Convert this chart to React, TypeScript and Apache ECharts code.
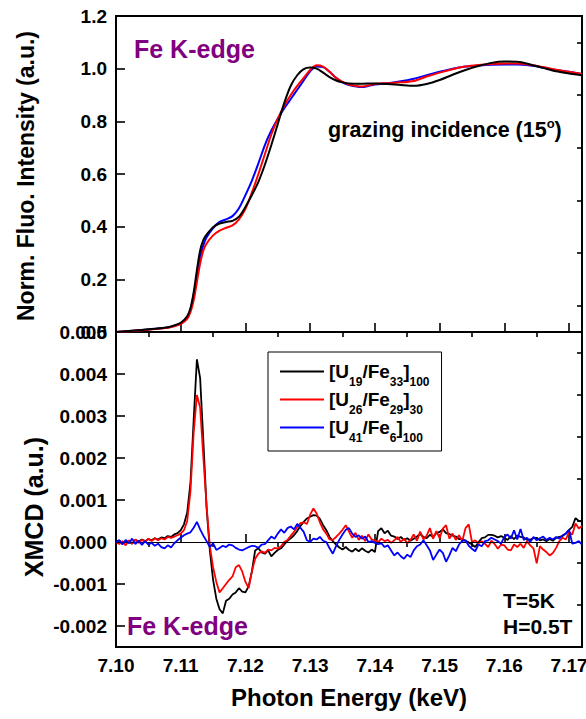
import { useEffect, useRef } from "react";
import * as echarts from "echarts";

// ---------- XAS (top panel) ----------
const XAS_E = [
  7.100, 7.102, 7.104, 7.106, 7.108, 7.109, 7.110, 7.111, 7.1115, 7.112,
  7.1125, 7.113, 7.1135, 7.114, 7.115, 7.116, 7.117, 7.118, 7.119, 7.120,
  7.121, 7.122, 7.123, 7.124, 7.125, 7.126, 7.127, 7.128, 7.129, 7.130,
  7.131, 7.132, 7.133, 7.134, 7.135, 7.136, 7.138, 7.140, 7.142, 7.144,
  7.146, 7.148, 7.150, 7.152, 7.154, 7.156, 7.158, 7.160, 7.162, 7.164,
  7.166, 7.168, 7.170, 7.172,
];
const XAS_BLACK = [
  0.000, 0.004, 0.008, 0.012, 0.018, 0.025, 0.035, 0.060, 0.090, 0.150,
  0.235, 0.310, 0.350, 0.370, 0.398, 0.412, 0.418, 0.422, 0.438, 0.475,
  0.520, 0.570, 0.635, 0.710, 0.790, 0.870, 0.935, 0.975, 0.998, 1.004,
  1.000, 0.985, 0.968, 0.955, 0.948, 0.944, 0.943, 0.944, 0.942, 0.938,
  0.935, 0.942, 0.957, 0.977, 0.995, 1.010, 1.022, 1.027, 1.026, 1.016,
  1.003, 0.990, 0.982, 0.975,
];
const XAS_RED = [
  0.000, 0.003, 0.007, 0.011, 0.016, 0.022, 0.030, 0.050, 0.075, 0.120,
  0.190, 0.260, 0.310, 0.336, 0.367, 0.385, 0.396, 0.405, 0.428, 0.468,
  0.530, 0.600, 0.675, 0.750, 0.810, 0.860, 0.900, 0.935, 0.965, 0.995,
  1.013, 1.008, 0.988, 0.965, 0.950, 0.940, 0.932, 0.942, 0.945, 0.948,
  0.953, 0.970, 0.985, 0.998, 1.008, 1.014, 1.018, 1.020, 1.020, 1.015,
  1.006, 0.996, 0.988, 0.980,
];
const XAS_BLUE = [
  0.000, 0.004, 0.008, 0.012, 0.017, 0.024, 0.033, 0.055, 0.085, 0.140,
  0.215, 0.285, 0.330, 0.360, 0.395, 0.418, 0.428, 0.440, 0.470, 0.520,
  0.575, 0.640, 0.710, 0.765, 0.810, 0.850, 0.885, 0.920, 0.955, 0.990,
  1.008, 1.006, 0.988, 0.965, 0.948, 0.938, 0.930, 0.940, 0.945, 0.952,
  0.962, 0.975, 0.988, 1.000, 1.008, 1.012, 1.015, 1.016, 1.016, 1.012,
  1.004, 0.995, 0.988, 0.980,
];

// ---------- XMCD (bottom panel), values in units of 1e-4 ----------
const XMCD_UNIT = 1e-4;
const XMCD_E = [
  7.1000, 7.1005, 7.1010, 7.1015, 7.1020, 7.1025, 7.1030, 7.1035, 7.1040, 7.1045,
  7.1050, 7.1055, 7.1060, 7.1065, 7.1070, 7.1075, 7.1080, 7.1085, 7.1090, 7.1095,
  7.1100, 7.1105, 7.1110, 7.1115, 7.1120, 7.1125, 7.1130, 7.1135, 7.1140, 7.1145,
  7.1150, 7.1155, 7.1160, 7.1165, 7.1170, 7.1175, 7.1180, 7.1185, 7.1190, 7.1195,
  7.1200, 7.1205, 7.1210, 7.1215, 7.1220, 7.1225, 7.1230, 7.1235, 7.1240, 7.1245,
  7.1250, 7.1255, 7.1260, 7.1265, 7.1270, 7.1275, 7.1280, 7.1285, 7.1290, 7.1295,
  7.1300, 7.1305, 7.1310, 7.1315, 7.1320, 7.1325, 7.1330, 7.1335, 7.1340, 7.1345,
  7.1350, 7.1355, 7.1360, 7.1365, 7.1370, 7.1375, 7.1380, 7.1385, 7.1390, 7.1395,
  7.1400, 7.1405, 7.1410, 7.1415, 7.1420, 7.1425, 7.1430, 7.1435, 7.1440, 7.1445,
  7.1450, 7.1455, 7.1460, 7.1465, 7.1470, 7.1475, 7.1480, 7.1485, 7.1490, 7.1495,
  7.1500, 7.1505, 7.1510, 7.1515, 7.1520, 7.1525, 7.1530, 7.1535, 7.1540, 7.1545,
  7.1550, 7.1555, 7.1560, 7.1565, 7.1570, 7.1575, 7.1580, 7.1585, 7.1590, 7.1595,
  7.1600, 7.1605, 7.1610, 7.1615, 7.1620, 7.1625, 7.1630, 7.1635, 7.1640, 7.1645,
  7.1650, 7.1655, 7.1660, 7.1665, 7.1670, 7.1675, 7.1680, 7.1685, 7.1690, 7.1695,
  7.1700, 7.1705, 7.1710, 7.1715, 7.1720,
];
const XMCD_BLACK = [
  0, 0.4, -0.3, 0.3, 0.0, -0.4, 0.5, 0.1, 0.6, 0.2,
  0.7, 0.4, 0.9, 0.6, 1.1, 0.9, 1.4, 1.2, 1.8, 2.1,
  2.8, 4.2, 7.0, 14.0, 29.0, 43.5, 39.0, 24.0, 8.0, -2.0,
  -9.0, -13.5, -16.0, -17.0, -14.0, -13.5, -12.5, -12.0, -11.0, -11.8,
  -12.0, -10.5, -7.0, -2.0, -1.5, -2.5, -2.8, -2.0, -3.4, -2.6,
  -1.9, -1.5, -0.6, 0.3, 0.9, 1.6, 2.6, 3.8, 4.8, 5.6,
  6.0, 6.4, 6.3, 5.5, 4.0, 2.8, 1.2, 0.2, -0.6, -1.3,
  -1.8, -1.2, -1.9, -2.3, -1.6, -2.2, -1.5, -2.1, -2.5, -1.8,
  -2.4, 2.6, 3.3, 2.1, 2.7, 1.5, 1.3, 0.7, 1.2, 0.5,
  0.9, 0.3, 0.8, 1.3, 1.9, 1.2, 0.9, 1.7, 1.2, 2.1,
  2.4, 3.0, 2.1, 1.9, 1.5, 1.3, 0.7, 0.7, 0.3, -0.1,
  -0.6, -1.2, -0.1, 0.9, 1.1, 1.7, 1.7, 1.5, 1.1, 1.4,
  1.0, 0.5, 1.4, 0.7, 1.5, 1.2, 1.1, 0.5, 0.6, 0.9,
  1.0, 0.4, 0.6, 0.2, 0.7, 0.3, 1.0, 1.2, 1.4, 2.0,
  2.9, 3.6, 5.7, 5.0, 4.9,
];
const XMCD_RED = [
  0, -0.5, 0.2, -0.8, 0.4, -0.4, 0.6, -0.2, 0.5, 0.1,
  0.8, 0.2, 0.9, 0.4, 0.9, 0.6, 1.2, 1.0, 1.3, 1.6,
  2.0, 2.8, 5.0, 12.0, 26.0, 35.0, 32.0, 20.0, 8.5, -1.0,
  -6.0, -9.5, -12.0, -11.0, -10.0, -9.0, -8.2, -6.0, -5.5, -7.0,
  -9.5, -11.0, -7.0, -4.0, -2.8, -2.2, -2.6, -1.8, -2.0, -1.4,
  -1.6, -1.0, 0.0, 0.5, 1.5, 2.4, 3.5, 4.5, 4.7, 4.3,
  6.5, 8.0, 6.8, 4.7, 3.0, 2.0, 0.6, 0.5, 1.2, 2.0,
  2.9, 4.0, 2.5, 1.0, 2.2, 0.5, 1.5, 0.2, 1.8, 0.6,
  0.4, -0.1, 0.8, 0.2, 0.5, -0.2, 0.4, 1.2, 0.0, 0.8,
  -0.3, 0.5, 1.8, 0.3, 2.5, 0.6, 1.5, 3.3, 0.8, 2.6,
  0.9, 3.2, 4.0, 0.8, 2.0, 0.5, 1.6, 0.2, 3.3, 4.2,
  0.0, 0.4, -0.3, 0.2, -0.4, -1.2, 0.3, -0.5, -1.6, -0.6,
  -0.8, -1.8, -2.0, -0.6, -1.2, -0.4, -1.4, 0.2, -0.8, -1.5,
  -5.1, -1.0, -1.8, -2.4, -3.2, -2.6, -1.4, 0.2, 1.0, 0.6,
  2.4, 1.8, 4.4, 3.2, 3.8,
];
const XMCD_BLUE = [
  0, 0.4, -0.6, 0.5, -0.3, 0.8, -0.5, 0.3, -0.7, 0.2,
  -0.6, -0.2, -0.9, -0.4, -1.2, -1.5, -0.8, -1.3, -0.3, 0.4,
  1.0, 1.6, 2.0, 2.3, 3.4, 4.8, 3.0, 1.5, 0.2, -1.2,
  -0.3, -1.9, -1.4, -0.9, -1.2, -0.6, -0.8, -1.4, -1.8, -2.0,
  -1.6, -1.2, -0.9, -1.0, -1.4, -0.6, -0.5, 0.4, 1.3, 0.8,
  2.0, 3.0, 2.2, 3.3, 3.7, 3.0, 4.3, 3.4, 2.4, 0.4,
  0.0, 0.8, 0.6, 1.2, 0.3, 0.0, -1.5, -2.8, -1.0, 0.5,
  1.8, 2.9, 3.3, 2.0, 1.2, 1.6, 0.8, 1.3, 0.0, 0.2,
  -0.2, -0.5, -0.3, -1.2, -0.8, -2.0, -3.2, -2.5, -3.4, -4.0,
  -3.0, -3.6, -2.0, -1.0, -0.6, 0.4, -0.8, -2.0, -4.3, -3.0,
  -1.8, -2.6, -4.7, -3.2, -1.4, -2.2, -0.6, 0.3, 0.4, -0.9,
  -1.6, -2.2, -0.6, -1.0, 0.2, 0.4, 1.0, 0.6, 0.2, -0.4,
  1.2, 1.8, 0.8, 2.8, 0.6, 3.1, 0.5, 1.0, 0.0, 1.2,
  0.4, 0.9, 1.3, 0.5, 1.0, 0.6, 1.2, 0.8, 1.6, 2.0,
  2.9, -0.4, -0.2, 0.2, -0.6,
];

// ---------- names, ticks ----------
const NAMES = ["[U19/Fe33]100", "[U26/Fe29]30", "[U41/Fe6]100"];
const NAME_RICH: Record<string, string> = {
  "[U19/Fe33]100": "[U{s|19}/Fe{s|33}]{s|100}",
  "[U26/Fe29]30": "[U{s|26}/Fe{s|29}]{s|30}",
  "[U41/Fe6]100": "[U{s|41}/Fe{s|6}]{s|100}",
};
const COLORS = ["#000000", "#ff0000", "#0000ff"];

const X_MIN = 7.1;
const X_MAX = 7.172;
const X_MAJOR = [7.1, 7.11, 7.12, 7.13, 7.14, 7.15, 7.16, 7.17];
const X_MINOR = [7.105, 7.115, 7.125, 7.135, 7.145, 7.155, 7.165];
const XAS_Y_MAJOR = [0, 0.2, 0.4, 0.6, 0.8, 1.0, 1.2];
const XAS_Y_MINOR = [0.1, 0.3, 0.5, 0.7, 0.9, 1.1];
const XMCD_Y_MAJOR = [-0.002, -0.001, 0, 0.001, 0.002, 0.003, 0.004, 0.005];
const XMCD_Y_MINOR = [-0.0015, -0.0005, 0.0005, 0.0015, 0.0025, 0.0035, 0.0045];

const FONT = '"Liberation Sans", Arial, Helvetica, sans-serif';
const PURPLE = "#800080";

function tickAxis(
  gridIndex: number,
  min: number,
  max: number,
  ticks: number[],
  len: number,
  labels: number[] | null,
  fmt: (v: number) => string
) {
  return {
    type: "value",
    gridIndex,
    min,
    max,
    axisLine: { show: false },
    splitLine: { show: false },
    axisTick: {
      show: true,
      inside: true,
      length: len,
      customValues: ticks,
      lineStyle: { color: "#000", width: 1.6 },
    },
    axisLabel: labels
      ? {
          show: true,
          customValues: labels,
          formatter: fmt,
          color: "#000",
          fontFamily: FONT,
          fontWeight: "bold",
          fontSize: 19,
          margin: 9,
        }
      : { show: false },
  };
}

export default function App() {
  const ref = useRef<HTMLDivElement>(null);
  useEffect(() => {
    const chart = echarts.init(ref.current!, null, { renderer: "svg" });
    const f2 = (v: number) => v.toFixed(2);
    const f1 = (v: number) => v.toFixed(1);
    const f3 = (v: number) => v.toFixed(3);

    const xAxes = [
      tickAxis(0, X_MIN, X_MAX, X_MAJOR, 9, null, f2),
      tickAxis(0, X_MIN, X_MAX, X_MINOR, 5, null, f2),
      {
        ...tickAxis(1, X_MIN, X_MAX, X_MAJOR, 8, X_MAJOR, f2),
        name: "Photon Energy (keV)",
        nameLocation: "middle",
        nameGap: 38,
        nameTextStyle: { color: "#000", fontFamily: FONT, fontWeight: "bold", fontSize: 24 },
      },
      tickAxis(1, X_MIN, X_MAX, X_MINOR, 5, null, f2),
    ];
    const yAxes = [
      tickAxis(0, 0, 1.2, XAS_Y_MAJOR, 9, XAS_Y_MAJOR, f1),
      tickAxis(0, 0, 1.2, XAS_Y_MINOR, 5, null, f1),
      tickAxis(1, -0.0025, 0.005, XMCD_Y_MAJOR, 9, XMCD_Y_MAJOR, f3),
      tickAxis(1, -0.0025, 0.005, XMCD_Y_MINOR, 5, null, f3),
    ];

    const xasVals = [XAS_BLACK, XAS_RED, XAS_BLUE];
    const xmcdVals = [XMCD_BLACK, XMCD_RED, XMCD_BLUE];

    const xasSeries = [2, 1, 0].map((k) => ({
      name: NAMES[k],
      type: "line",
      xAxisIndex: 0,
      yAxisIndex: 0,
      showSymbol: false,
      symbol: "none",
      smooth: 0.3,
      lineStyle: { color: COLORS[k], width: 2 },
      itemStyle: { color: COLORS[k] },
      data: XAS_E.map((e, i) => [e, xasVals[k][i]]),
      z: 3 + (2 - k),
    }));
    const xmcdSeries = [0, 1, 2].map((k) => ({
      name: NAMES[k],
      type: "line",
      xAxisIndex: 2,
      yAxisIndex: 2,
      showSymbol: false,
      symbol: "none",
      lineStyle: { color: COLORS[k], width: 1.8 },
      itemStyle: { color: COLORS[k] },
      data: XMCD_E.map((e, i) => [e, xmcdVals[k][i] * XMCD_UNIT]),
      z: 3 + k,
      ...(k === 0
        ? {
            markLine: {
              silent: true,
              symbol: "none",
              label: { show: false },
              lineStyle: { color: "#000", width: 1.2, type: "solid" },
              data: [{ yAxis: 0 }],
            },
          }
        : {}),
    }));

    const txt = (text: string, x: number, y: number, size: number, color: string) => ({
      type: "text",
      x,
      y,
      z: 100,
      style: {
        text,
        fill: color,
        fontFamily: FONT,
        fontWeight: "bold",
        fontSize: size,
        align: "left",
        verticalAlign: "middle",
      },
    });

    chart.setOption({
      animation: false,
      backgroundColor: "#ffffff",
      grid: [
        { left: 116, right: 4, top: 16, height: 316, show: true, borderColor: "#000", borderWidth: 2, backgroundColor: "transparent", outerBoundsMode: "none" },
        { left: 116, right: 4, top: 332, height: 315, show: true, borderColor: "#000", borderWidth: 2, backgroundColor: "transparent", outerBoundsMode: "none" },
      ],
      xAxis: xAxes,
      yAxis: yAxes,
      legend: {
        data: NAMES,
        orient: "vertical",
        left: 268,
        top: 352,
        padding: [7, 12, 7, 12],
        itemGap: -1,
        itemWidth: 44,
        itemHeight: 2,
        icon: "rect",
        borderColor: "#000",
        borderWidth: 1,
        backgroundColor: "#fff",
        selectedMode: false,
        formatter: (name: string) => NAME_RICH[name],
        textStyle: {
          color: "#000",
          fontFamily: FONT,
          fontWeight: "bold",
          fontSize: 19,
          lineHeight: 25,
          rich: {
            s: {
              color: "#000",
              fontFamily: FONT,
              fontWeight: "bold",
              fontSize: 12,
              verticalAlign: "bottom",
              height: 4,
            },
          },
        },
      },
      graphic: [
        txt("Fe K-edge", 134, 48.5, 25, PURPLE),
        txt("Fe K-edge", 127, 626, 25, PURPLE),
        {
          type: "text",
          x: 328,
          y: 129.5,
          z: 100,
          style: {
            text: "grazing incidence (15{sup|o})",
            fill: "#000",
            fontFamily: FONT,
            fontWeight: "bold",
            fontSize: 21.5,
            lineHeight: 24,
            align: "left",
            verticalAlign: "middle",
            rich: {
              sup: {
                fill: "#000",
                fontFamily: FONT,
                fontWeight: "bold",
                fontSize: 13,
                verticalAlign: "top",
                height: 11,
              },
            },
          },
        },
        txt("T=5K", 503, 600, 21, "#000"),
        txt("H=0.5T", 503, 626.3, 21, "#000"),
        {
          type: "text",
          x: 26,
          y: 176,
          rotation: Math.PI / 2,
          z: 100,
          style: {
            text: "Norm. Fluo. Intensity (a.u.)",
            fill: "#000",
            fontFamily: FONT,
            fontWeight: "bold",
            fontSize: 23,
            align: "center",
            verticalAlign: "middle",
          },
        },
        {
          type: "text",
          x: 34,
          y: 507,
          rotation: Math.PI / 2,
          z: 100,
          style: {
            text: "XMCD (a.u.)",
            fill: "#000",
            fontFamily: FONT,
            fontWeight: "bold",
            fontSize: 25,
            align: "center",
            verticalAlign: "middle",
          },
        },
      ],
      series: [...xasSeries, ...xmcdSeries],
    });
    return () => chart.dispose();
  }, []);
  return (
    <div
      ref={ref}
      style={{ position: "fixed", left: 0, top: 0, width: 586, height: 719, background: "#fff" }}
    />
  );
}
